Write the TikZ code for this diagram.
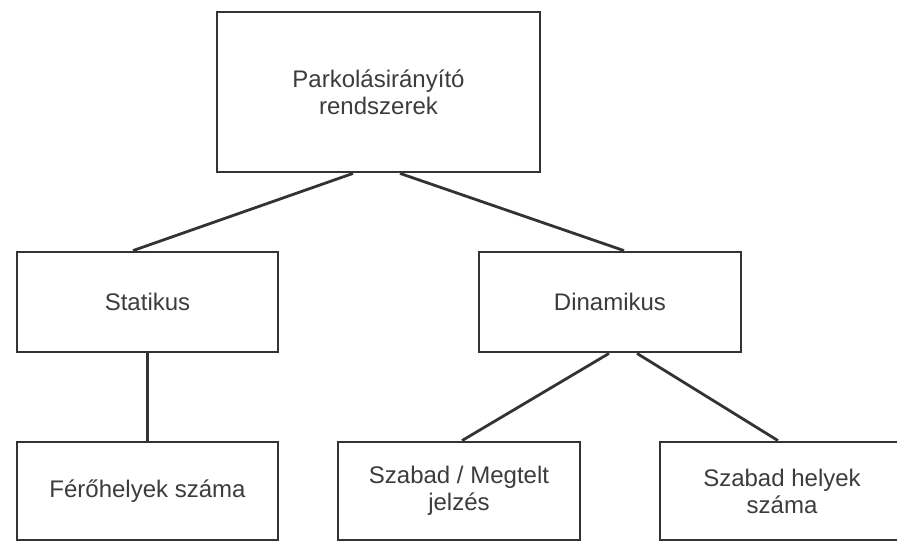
\documentclass[tikz,border=0pt]{standalone}
\usepackage{fontspec}
\setmainfont{Liberation Sans}
\usepackage{xcolor}
\usepackage{tikz}
\usetikzlibrary{positioning}

\definecolor{boxline}{HTML}{333333}
\definecolor{boxtext}{HTML}{3C3C3C}

\begin{document}
\begin{tikzpicture}[x=1pt, y=-1pt]
\tikzstyle{box} = [rectangle, draw=boxline, line width=2.8pt, fill=white, text=boxtext, align=center, font=\fontsize{24}{27}\selectfont, inner sep=0pt]
\tikzstyle{link} = [draw=boxline, line width=2.8pt]

\useasboundingbox (0,0) rectangle (897,542);
\clip (0,0) rectangle (897,542);

\node (root) [box, minimum width=323pt, minimum height=160pt] at (378.5,92) {Parkolásirányító\\rendszerek};
\node (stat) [box, minimum width=261pt, minimum height=100pt] at (147.5,302) {Statikus};
\node (dyn) [box, minimum width=262pt, minimum height=100pt] at (610,302) {Dinamikus};
\node (cap) [box, minimum width=261pt, minimum height=98pt] at (147.5,491) {Férőhelyek száma};
\node (flag) [box, minimum width=242pt, minimum height=98pt] at (459,491) {Szabad / Megtelt\\jelzés};
\node (free) [box, minimum width=244pt, minimum height=98pt] at (782,491) {Szabad helyek\\száma};

\draw [link] ([xshift=-25.5pt]root.south) -- ([xshift=-14.5pt]stat.north);
\draw [link] ([xshift=21.5pt]root.south) -- ([xshift=14pt]dyn.north);
\draw [link] (stat) -- (cap);
\draw [link] ([xshift=-1pt]dyn.south) -- ([xshift=3pt]flag.north);
\draw [link] ([xshift=27pt]dyn.south) -- ([xshift=-4pt]free.north);

\end{tikzpicture}
\end{document}
